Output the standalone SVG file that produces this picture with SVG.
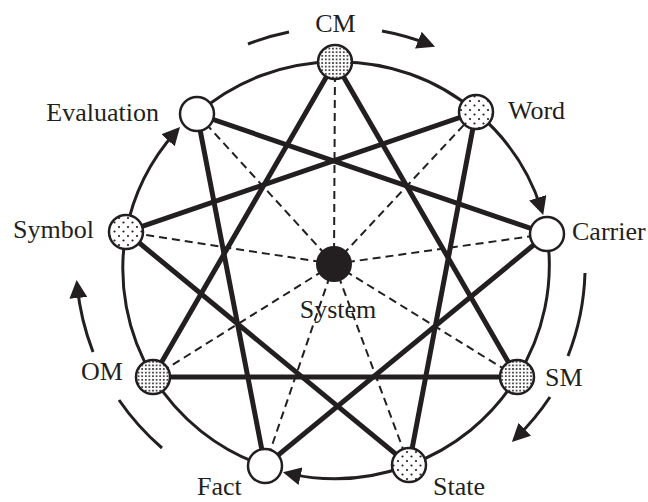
<svg xmlns="http://www.w3.org/2000/svg" width="648" height="502" viewBox="0 0 648 502">
<defs>
<style>
.lbl{font-family:"Liberation Serif","Times New Roman",serif;font-size:26px;fill:#231f20}
.ring{fill:none;stroke:#231f20;stroke-width:3}
.outer{fill:none;stroke:#231f20;stroke-width:3}
.dash{stroke:#231f20;stroke-width:2;stroke-dasharray:8 5;fill:none}
.star{stroke:#231f20;stroke-width:5;fill:none;stroke-linecap:round}
.node{stroke:#231f20;stroke-width:2.5}
.arr{marker-end:url(#ah)}
</style>
<marker id="ah" viewBox="0 0 18 18" refX="12" refY="9" markerWidth="18" markerHeight="18" markerUnits="userSpaceOnUse" orient="auto">
<path d="M0,0 L18,9 L0,18 z" fill="#231f20"/>
</marker>
<pattern id="dense" width="3.6" height="3.6" patternUnits="userSpaceOnUse">
<rect width="3.6" height="3.6" fill="#fff"/>
<circle cx="1.8" cy="1.8" r="1" fill="#231f20"/>
</pattern>
<pattern id="sparse" width="9" height="9" patternUnits="userSpaceOnUse">
<rect width="9" height="9" fill="#fff"/>
<circle cx="2" cy="2" r="1.1" fill="#231f20"/>
<circle cx="6.5" cy="6.5" r="1.1" fill="#231f20"/>
</pattern>
</defs>
<rect width="648" height="502" fill="#fff"/>
<g id="connectors">
<path class="ring" d="M547,234 A210 210 0 0 1 517,377 A210 210 0 0 1 409,465"/>
<path class="ring" d="M265,466 A210 210 0 0 1 153,377 A210 210 0 0 1 126,232"/>
<path class="ring" d="M197,114 A210 210 0 0 1 335,62 A210 210 0 0 1 476,112"/>
<path class="ring arr" d="M476,112 A210 210 0 0 1 541.4,209.2"/>
<path class="ring arr" d="M409,465 A210 210 0 0 1 288.8,473.6"/>
<path class="ring arr" d="M126,232 A210 210 0 0 1 176,131.4"/>
<g class="dash">
<line x1="334" y1="264" x2="335" y2="62"/>
<line x1="334" y1="264" x2="476" y2="112"/>
<line x1="334" y1="264" x2="547" y2="234"/>
<line x1="334" y1="264" x2="517" y2="377"/>
<line x1="334" y1="264" x2="409" y2="465"/>
<line x1="334" y1="264" x2="265" y2="466"/>
<line x1="334" y1="264" x2="153" y2="377"/>
<line x1="334" y1="264" x2="126" y2="232"/>
<line x1="334" y1="264" x2="197" y2="114"/>
</g>
<g class="star">
<path d="M335,62 L517,377 L153,377 Z"/>
<path d="M476,112 L409,465 L126,232 Z"/>
<path d="M547,234 L265,466 L197,114 Z"/>
</g>
<path class="outer" d="M248,44 A245 245 0 0 1 289,32"/>
<path class="outer arr" d="M382,31 A245 245 0 0 1 429.5,44.6"/>
<path class="outer" d="M585,273 A248 248 0 0 1 568,356"/>
<path class="outer arr" d="M550,397 A248 248 0 0 1 516.2,437.7"/>
<path class="outer" d="M162,448 A250 250 0 0 1 119,400"/>
<path class="outer arr" d="M93,352 A255 255 0 0 1 77.2,286"/>
</g>
<g id="system"><circle cx="334" cy="264" r="18" fill="#231f20"/><text class="lbl" x="338" y="318" text-anchor="middle">System</text></g>
<g id="cm"><circle class="node" cx="335" cy="62" r="17" fill="url(#dense)"/><text class="lbl" x="335.5" y="32" text-anchor="middle">CM</text></g>
<g id="word"><circle class="node" cx="476" cy="112" r="17" fill="url(#sparse)"/><text class="lbl" x="508" y="119">Word</text></g>
<g id="carrier"><circle class="node" cx="547" cy="234" r="17" fill="#fff"/><text class="lbl" x="572" y="240">Carrier</text></g>
<g id="sm"><circle class="node" cx="517" cy="377" r="17" fill="url(#dense)"/><text class="lbl" x="545" y="386">SM</text></g>
<g id="state"><circle class="node" cx="409" cy="465" r="17" fill="url(#sparse)"/><text class="lbl" x="433" y="495">State</text></g>
<g id="fact"><circle class="node" cx="265" cy="466" r="17" fill="#fff"/><text class="lbl" x="197" y="495">Fact</text></g>
<g id="om"><circle class="node" cx="153" cy="377" r="17" fill="url(#dense)"/><text class="lbl" x="81" y="380">OM</text></g>
<g id="symbol"><circle class="node" cx="126" cy="232" r="17" fill="url(#sparse)"/><text class="lbl" x="13" y="238">Symbol</text></g>
<g id="evaluation"><circle class="node" cx="197" cy="114" r="17" fill="#fff"/><text class="lbl" x="159" y="121" text-anchor="end">Evaluation</text></g>
</svg>
